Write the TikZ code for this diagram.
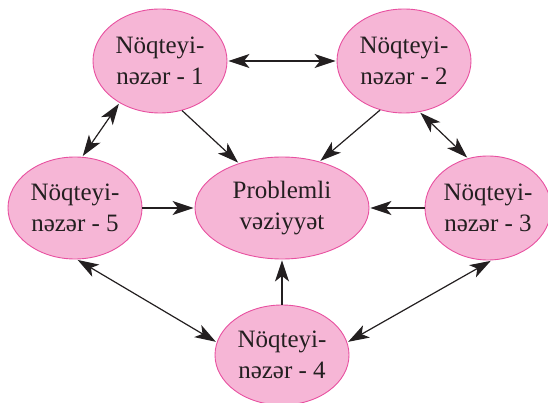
\documentclass[tikz,border=0pt]{standalone}
\usepackage{fontspec}
\setmainfont{Liberation Serif}
\usetikzlibrary{arrows.meta,shapes.geometric}
\definecolor{bubble}{RGB}{246,182,214}
\definecolor{rim}{RGB}{232,80,160}
\definecolor{ink}{RGB}{35,31,32}
\begin{document}
\begin{tikzpicture}[x=1pt,y=-1pt,
  bub/.style={ellipse, draw=rim, line width=0.9pt, fill=bubble, inner xsep=-30pt, inner ysep=-25pt,
    align=center, text=ink, font=\fontsize{25}{30.5}\selectfont},
  tip/.tip={Stealth[length=21pt,width=14pt,inset=5.5pt]},
  link/.style={draw=ink, line width=1.2pt, -tip, shorten >=1pt},
  both/.style={draw=ink, line width=1.2pt, tip-tip, shorten >=1pt, shorten <=1pt}]
\useasboundingbox (0,0) rectangle (548,403);
\node[bub, minimum width=134pt, minimum height=104pt] (n1) at (160,61) {Nöqteyi-\\nəzər - 1};
\node[bub, minimum width=134pt, minimum height=104pt] (n2) at (404,61) {Nöqteyi-\\nəzər - 2};
\node[bub, minimum width=134pt, minimum height=102pt] (n5) at (75,208) {Nöqteyi-\\nəzər - 5};
\node[bub, minimum width=174pt, minimum height=102pt] (p) at (282,208) {Problemli\\vəziyyət};
\node[bub, minimum width=126pt, minimum height=104pt] (n3) at (488,208) {Nöqteyi-\\nəzər - 3};
\node[bub, minimum width=134pt, minimum height=100pt] (n4) at (282,355) {Nöqteyi-\\nəzər - 4};
\draw[both] (n1.east) -- (n2.west);
\draw[link] (n1.-66) -- (p.134);
\draw[link] (n2.-116) -- (p.51);
\draw[both] (n1.-134) -- (n5.82);
\draw[both] (n2.-73) -- (n3.112);
\draw[link] (n5.east) -- (p.west);
\draw[link] (n3.west) -- (p.east);
\draw[link] (n4.north) -- (p.south);
\draw[both] (n5.-88) -- (n4.169);
\draw[both] (n3.-86) -- (n4.11);
\end{tikzpicture}
\end{document}
